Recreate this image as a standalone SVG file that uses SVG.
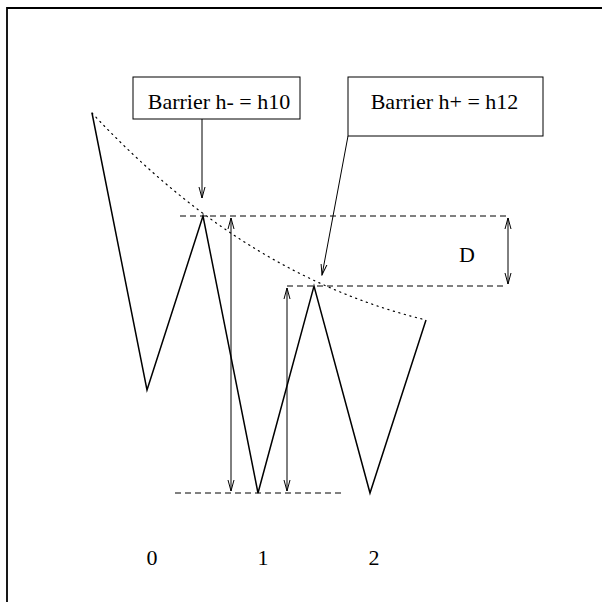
<svg xmlns="http://www.w3.org/2000/svg" width="602" height="602" viewBox="0 0 602 602">
<style>
.txt{font-family:"Liberation Serif","Times New Roman",serif;font-size:22px;fill:#000}
.box{fill:#fff;stroke:#000;stroke-width:1}
.dash{fill:none;stroke:#000;stroke-width:1;stroke-dasharray:6 4}
.arr{fill:none;stroke:#000;stroke-width:1}
.main{fill:none;stroke:#000;stroke-width:1.5;stroke-linejoin:miter}
.dot{fill:none;stroke:#000;stroke-width:1.2;stroke-dasharray:1.2 4.5;stroke-linecap:round}
</style>
<defs>
<marker id="ah" viewBox="0 0 12 8" markerWidth="12" markerHeight="8" refX="11" refY="4" orient="auto-start-reverse" markerUnits="userSpaceOnUse">
<path d="M0,1 L11,4 L0,7" fill="none" stroke="#000" stroke-width="1"/>
</marker>
</defs>
<rect width="602" height="602" fill="#fff"/>
<g id="frame">
<path d="M7,602 L7,8 L602,8" fill="none" stroke="#000" stroke-width="1.8"/>
</g>
<g id="curve">
<path class="dot" d="M92,113 C203,232 315,293 426,320"/>
<path class="main" d="M92,113 L147,390 L203,216 L258,493 L314,286 L370,493 L426,320"/>
</g>
<g id="connectors">
<line class="dash" x1="180" y1="216" x2="510" y2="216"/>
<line class="dash" x1="287" y1="286" x2="505" y2="286"/>
<line class="dash" x1="175" y1="493" x2="343" y2="493"/>
<line class="arr" x1="231" y1="218" x2="231" y2="491" marker-start="url(#ah)" marker-end="url(#ah)"/>
<line class="arr" x1="287" y1="288" x2="287" y2="491" marker-start="url(#ah)" marker-end="url(#ah)"/>
<line class="arr" x1="508" y1="218" x2="508" y2="284" marker-start="url(#ah)" marker-end="url(#ah)"/>
<line class="arr" x1="202" y1="119" x2="202" y2="198" marker-end="url(#ah)"/>
<line class="arr" x1="348" y1="136" x2="322" y2="275" marker-end="url(#ah)"/>
</g>
<g id="box-hminus">
<rect class="box" x="133" y="77" width="167" height="42"/>
<text class="txt" x="219" y="109" text-anchor="middle">Barrier h- = h10</text>
</g>
<g id="box-hplus">
<rect class="box" x="348" y="77" width="195" height="59"/>
<text class="txt" x="444.5" y="109" text-anchor="middle">Barrier h+ = h12</text>
</g>
<g id="labels">
<text class="txt" x="467" y="262" text-anchor="middle">D</text>
<text class="txt" x="152" y="565" text-anchor="middle">0</text>
<text class="txt" x="263" y="565" text-anchor="middle">1</text>
<text class="txt" x="374" y="565" text-anchor="middle">2</text>
</g>
</svg>
